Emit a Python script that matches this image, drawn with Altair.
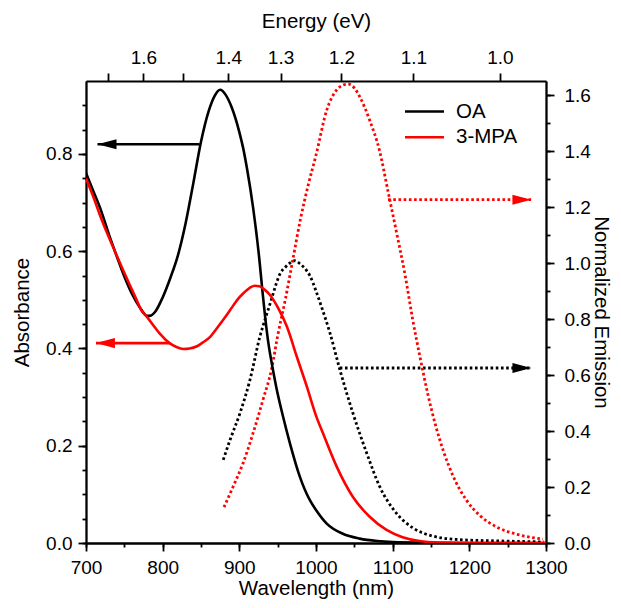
import altair as alt
import pandas as pd

# ---------------- data ----------------
SAMPLES = ["OA", "3-MPA"]

OA_ABS_WL = [700, 710, 720, 730, 740, 750, 760, 770, 780, 785, 790, 800, 810, 820, 830,
             840, 850, 860, 868, 875, 882, 890, 900, 905, 910, 918, 926, 930, 934, 938,
             942, 948, 957, 966, 979, 992, 1000, 1014, 1035, 1057, 1080, 1100, 1150, 1200, 1300]
OA_ABS = [0.761, 0.722, 0.682, 0.634, 0.590, 0.548, 0.512, 0.485, 0.467, 0.468, 0.475, 0.505,
          0.545, 0.592, 0.658, 0.740, 0.825, 0.888, 0.920, 0.932, 0.922, 0.896, 0.845, 0.812,
          0.770, 0.689, 0.585, 0.520, 0.460, 0.410, 0.372, 0.322, 0.260, 0.205, 0.136, 0.088,
          0.068, 0.040, 0.019, 0.009, 0.004, 0.002, 0.0005, 0.0, 0.0]

MPA_ABS_WL = [700, 710, 718, 730, 736, 745, 757, 766, 772, 779, 790, 796, 809, 818, 827, 835,
              844, 852, 862, 870, 879, 888, 896, 900, 905, 910, 915, 920, 926, 932, 940, 950,
              962, 975, 988, 1000, 1009, 1027, 1048, 1070, 1092, 1113, 1135, 1160, 1200, 1300]
MPA_ABS = [0.750, 0.710, 0.675, 0.628, 0.606, 0.573, 0.531, 0.500, 0.479, 0.466, 0.443, 0.431,
           0.411, 0.403, 0.399, 0.400, 0.404, 0.412, 0.424, 0.440, 0.459, 0.479, 0.497, 0.505,
           0.513, 0.520, 0.526, 0.529, 0.528, 0.522, 0.510, 0.485, 0.445, 0.383, 0.322, 0.262,
           0.226, 0.157, 0.095, 0.054, 0.027, 0.012, 0.004, 0.001, 0.0, 0.0]

OA_EM_WL = [879, 888, 901, 914, 927, 935, 942, 948, 953, 960, 966, 972, 980, 988, 992, 1000,
            1007, 1018, 1031, 1048, 1066, 1083, 1105, 1127, 1152, 1187, 1230, 1297]
OA_EM = [0.297, 0.369, 0.465, 0.584, 0.739, 0.811, 0.871, 0.925, 0.961, 0.985, 1.000, 1.008,
         0.995, 0.972, 0.955, 0.900, 0.845, 0.752, 0.620, 0.465, 0.322, 0.202, 0.106, 0.053,
         0.025, 0.012, 0.008, 0.004]

MPA_EM_WL = [880, 892, 905, 918, 931, 942, 950, 960, 970, 980, 990, 1000, 1014, 1027, 1035,
             1042, 1050, 1057, 1070, 1083, 1094, 1105, 1116, 1126, 1136, 1146, 1156, 1166, 1179,
             1196, 1213, 1235, 1261, 1296]
MPA_EM = [0.128, 0.202, 0.286, 0.393, 0.513, 0.620, 0.740, 0.870, 1.015, 1.160, 1.280, 1.385,
          1.546, 1.618, 1.635, 1.639, 1.625, 1.594, 1.510, 1.400, 1.255, 1.110, 0.960, 0.800,
          0.660, 0.530, 0.420, 0.330, 0.238, 0.154, 0.100, 0.058, 0.032, 0.014]

# annotation arrows (which axis each curve belongs to)
ABS_ARROW_SAMPLE = ["OA", "3-MPA"]
ABS_ARROW_FROM = [848, 809]
ABS_ARROW_TO = [715, 713]
ABS_ARROW_Y = [0.82, 0.411]

EM_ARROW_SAMPLE = ["OA", "3-MPA"]
EM_ARROW_FROM = [1031, 1094]
EM_ARROW_TO = [1281, 1281]
EM_ARROW_Y = [0.625, 1.226]

# axes
HC = 1239.84
ENERGY_TICKS = [1.7, 1.6, 1.5, 1.4, 1.3, 1.2, 1.1, 1.0]
ENERGY_LABELED = ["1.6", "1.4", "1.3", "1.2", "1.1", "1.0"]
WL_MAJOR = [700, 800, 900, 1000, 1100, 1200, 1300]
WL_MINOR = [700, 750, 800, 850, 900, 950, 1000, 1050, 1100, 1150, 1200, 1250, 1300]
ABS_MAJOR = [0.0, 0.2, 0.4, 0.6, 0.8]
ABS_MINOR = [0.0, 0.05, 0.1, 0.15, 0.2, 0.25, 0.3, 0.35, 0.4, 0.45, 0.5, 0.55, 0.6, 0.65,
             0.7, 0.75, 0.8, 0.85, 0.9]
EM_MAJOR = [0.0, 0.2, 0.4, 0.6, 0.8, 1.0, 1.2, 1.4, 1.6]
EM_MINOR = [0.0, 0.1, 0.2, 0.3, 0.4, 0.5, 0.6, 0.7, 0.8, 0.9, 1.0, 1.1, 1.2, 1.3, 1.4, 1.5, 1.6]

X_DOMAIN = [700, 1300]
ABS_DOMAIN = [0, 0.95]
EM_DOMAIN = [0, 1.65]

# ---------------- tables ----------------
def curves(specs):
    rows = []
    for s, wl, val in specs:
        rows += [{"wl": w, "value": v, "sample": s} for w, v in zip(wl, val)]
    return pd.DataFrame(rows)

abs_df = curves([("OA", OA_ABS_WL, OA_ABS), ("3-MPA", MPA_ABS_WL, MPA_ABS)])
em_df = curves([("OA", OA_EM_WL, OA_EM), ("3-MPA", MPA_EM_WL, MPA_EM)])
abs_arrows = pd.DataFrame({"sample": ABS_ARROW_SAMPLE, "x0": ABS_ARROW_FROM,
                           "x1": ABS_ARROW_TO, "y": ABS_ARROW_Y})
em_arrows = pd.DataFrame({"sample": EM_ARROW_SAMPLE, "x0": EM_ARROW_FROM,
                          "x1": EM_ARROW_TO, "y": EM_ARROW_Y})

# ---------------- styling ----------------
FONT = "Liberation Sans"
LABEL_FS = 19
TITLE_FS = 20.5
DOT = [2.6, 2.6]
SOLID_W = 2.6
DOT_W = 2.8

common = dict(labelFont=FONT, titleFont=FONT, labelFontSize=LABEL_FS, titleFontSize=TITLE_FS,
              titleFontWeight="normal", domainColor="black", domainWidth=1.8,
              tickColor="black", tickWidth=1.8, labelColor="black", titleColor="black",
              grid=False, labelFlush=False, labelOverlap=False)

color_scale = alt.Scale(domain=SAMPLES, range=["#000000", "#ff0000"])
xs = alt.Scale(domain=X_DOMAIN, nice=False)
ys_abs = alt.Scale(domain=ABS_DOMAIN, nice=False, zero=False)
ys_em = alt.Scale(domain=EM_DOMAIN, nice=False, zero=False)

ax_bottom_major = alt.Axis(orient="bottom", values=WL_MAJOR, format="d", tickSize=8,
                           labelPadding=7, titlePadding=1, **common)
ax_bottom_minor = alt.Axis(orient="bottom", values=WL_MINOR, tickSize=4, labels=False, **common)
ax_left_major = alt.Axis(orient="left", values=ABS_MAJOR, format=".1f", tickSize=8,
                         labelPadding=6, titlePadding=13, **common)
ax_left_minor = alt.Axis(orient="left", values=ABS_MINOR, tickSize=4, labels=False, **common)
ax_right_major = alt.Axis(orient="right", values=EM_MAJOR, format=".1f", tickSize=8,
                          labelPadding=10, titlePadding=0, **common)
ax_right_minor = alt.Axis(orient="right", values=EM_MINOR, tickSize=4, labels=False, **common)

e_lab = "format(%s/datum.value, '.1f')" % HC
label_list = "[" + ",".join("'%s'" % s for s in ENERGY_LABELED) + "]"
ax_top = alt.Axis(orient="top", values=[HC / e for e in ENERGY_TICKS], tickSize=8,
                  labelPadding=6, titlePadding=17,
                  labelExpr="indexof(%s, %s) >= 0 ? %s : ''" % (label_list, e_lab, e_lab),
                  **common)

# legend: a line symbol twice as long as the symbol box, so rows stay compact
legend = alt.Legend(orient="none", legendX=327, legendY=19, title=None,
                    symbolType="M-2,0L2,0", symbolSize=380, symbolStrokeWidth=SOLID_W,
                    labelFont=FONT, labelFontSize=20.5, labelColor="black", labelOffset=20,
                    rowPadding=3.8, padding=0)

# ---------------- layers ----------------
abs_lines = alt.Chart(abs_df).mark_line(strokeWidth=SOLID_W, clip=True,
                                        interpolate="monotone").encode(
    x=alt.X("wl:Q", scale=xs, axis=ax_bottom_major, title="Wavelength (nm)"),
    y=alt.Y("value:Q", scale=ys_abs, axis=ax_left_major, title="Absorbance"),
    color=alt.Color("sample:N", scale=color_scale, legend=legend, sort=SAMPLES),
)

em_lines = alt.Chart(em_df).mark_line(strokeWidth=DOT_W, strokeDash=DOT, clip=True,
                                      interpolate="monotone").encode(
    x=alt.X("wl:Q", scale=xs, axis=ax_top, title="Energy (eV)"),
    y=alt.Y("value:Q", scale=ys_em, axis=ax_right_major, title="Normalized Emission"),
    color=alt.Color("sample:N", scale=color_scale, legend=None),
)

abs_arrow_rules = alt.Chart(abs_arrows).mark_rule(strokeWidth=SOLID_W).encode(
    x=alt.X("x0:Q", scale=xs, axis=ax_bottom_minor, title=None),
    x2="x1:Q",
    y=alt.Y("y:Q", scale=ys_abs, axis=ax_left_minor, title=None),
    color=alt.Color("sample:N", scale=color_scale, legend=None),
)

abs_arrow_heads = alt.Chart(abs_arrows).mark_point(
    shape="M1,-0.53 L-1,0 L1,0.53 Z", filled=True, size=361, opacity=1, xOffset=9.5
).encode(
    x=alt.X("x1:Q", scale=xs, axis=None),
    y=alt.Y("y:Q", scale=ys_abs, axis=None),
    color=alt.Color("sample:N", scale=color_scale, legend=None),
)

em_arrow_rules = alt.Chart(em_arrows).mark_rule(strokeWidth=DOT_W, strokeDash=DOT).encode(
    x=alt.X("x0:Q", scale=xs, axis=None),
    x2="x1:Q",
    y=alt.Y("y:Q", scale=ys_em, axis=ax_right_minor, title=None),
    color=alt.Color("sample:N", scale=color_scale, legend=None),
)

em_arrow_heads = alt.Chart(em_arrows).mark_point(
    shape="M-1,-0.53 L1,0 L-1,0.53 Z", filled=True, size=361, opacity=1, xOffset=-9.5
).encode(
    x=alt.X("x1:Q", scale=xs, axis=None),
    y=alt.Y("y:Q", scale=ys_em, axis=None),
    color=alt.Color("sample:N", scale=color_scale, legend=None),
)

chart = alt.layer(
    em_arrow_rules, em_arrow_heads, abs_arrow_rules, abs_arrow_heads, em_lines, abs_lines
).resolve_scale(
    x="independent", y="independent"
).resolve_legend(
    color="independent"
).properties(
    width=460, height=462,
    autosize=alt.AutoSizeParams(type="none"),
    padding={"left": 78, "top": 73, "right": 67, "bottom": 57},
    background="white",
).configure_view(stroke=None)

chart.save("out.html", embed_options={"renderer": "svg", "actions": False})
